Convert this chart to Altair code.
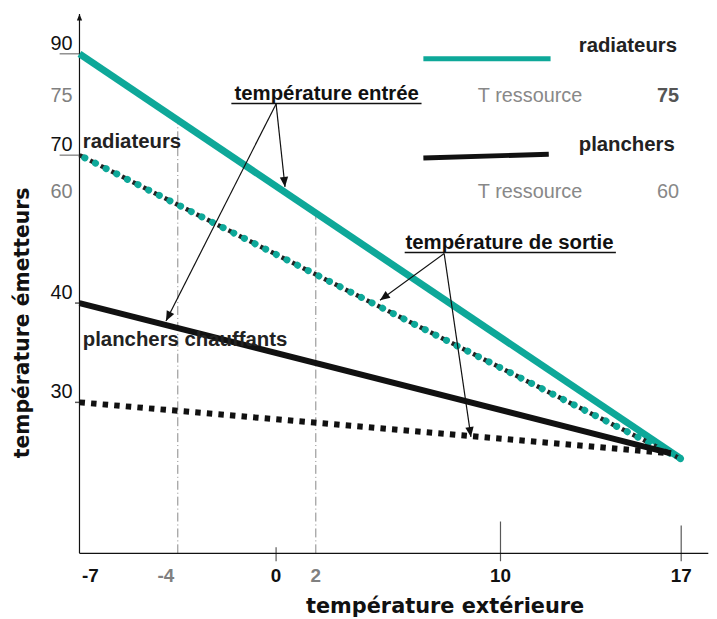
import altair as alt
import numpy as np
import pandas as pd

TEAL = "#0ea899"
SANS = "Liberation Sans"

# ---------------- data ----------------
t_ext = [-7, 17]
t_ext_planchers = [-7, 16.6]
rad_entree = [90, 20]
rad_sortie = [70, 20]
pl_entree = [40, 21]
pl_sortie = [30, 21]

y_labels_black = [90, 70, 40, 30]
y_labels_gray = [75, 60]
x_labels_black = [0, 10, 17]
x_labels_gray = [-4, 2]
x_label_first = [-7]

# guide lines (x, top value where they meet the radiator inlet line)
guide_x = [-4, 2]
guide_top = [73.0, 56.25]

# annotations (positions in chart units: °C outside / °C emitter)
ann_entree = {"text": "température entrée", "x": 2.47, "y": 74.6,
              "ul_x": -1.82, "ul_x2": 6.58, "ul_y": 74.33,
              "from": (0.0, 74.3), "to": [(0.45, 61.35), (-4.36, 38.2)]}
ann_sortie = {"text": "température de sortie", "x": 10.35, "y": 49.64,
              "ul_x": 5.85, "ul_x2": 14.47, "ul_y": 49.1,
              "from": (7.56, 48.9), "to": [(4.78, 40.5), (8.72, 23.9)]}
series_labels = ["radiateurs", "planchers chauffants"]
series_label_x = [-6.9, -6.9]
series_label_y = [70.58, 35.7]

# legend
leg_names = ["radiateurs", "planchers"]
leg_name_y = [90.7, 70.33]
leg_name_x = 13.03
leg_line_x = [6.66, 11.94]
leg_line_y_rad = [88.2, 88.2]
leg_line_x_pl = [6.66, 11.87]
leg_line_y_pl = [69.2, 70.08]
leg_res_label = "T ressource"
leg_res_x = 9.02
leg_res_y = [75, 60]
leg_res_vals = ["75", "60"]
leg_res_val_x = 16.92

# ---------------- scales (schematic, piecewise) ----------------
X_DOMAIN = [-7, -4, 0, 2, 10, 17]
X_RANGE = [72, 171, 270, 310, 496, 678]
Y_DOMAIN = [0, 20, 30, 40, 60, 70, 75, 90, 105]
Y_RANGE = [547, 452, 395, 295, 183, 146, 86, 44, 2]

xs = alt.Scale(domain=X_DOMAIN, range=X_RANGE, zero=False, nice=False)
ys = alt.Scale(domain=Y_DOMAIN, range=Y_RANGE, zero=False, nice=False)


def XY(x="x", y="y"):
    return dict(x=alt.X(f"{x}:Q", scale=xs, axis=None),
                y=alt.Y(f"{y}:Q", scale=ys, axis=None))


def line(xa, ya, **mk):
    return alt.Chart(pd.DataFrame({"x": xa, "y": ya})).mark_line(**mk).encode(**XY())


def texts(xa, ya, labels, **mk):
    df = pd.DataFrame({"x": xa, "y": ya, "t": labels})
    return alt.Chart(df).mark_text(**mk).encode(**XY(), text="t:N")


def rule(x, y, x2, y2, **mk):
    df = pd.DataFrame({"x": [x], "y": [y], "x2": [x2], "y2": [y2]})
    return alt.Chart(df).mark_rule(**mk).encode(**XY(), x2="x2:Q", y2="y2:Q")


def to_px(x, y):
    return np.interp(x, X_DOMAIN, X_RANGE), np.interp(y, Y_DOMAIN, Y_RANGE)


ARROW = "M0,0L0.42,1L-0.42,1Z"


def arrows(src, dests):
    layers = []
    x0, y0 = src
    heads = []
    for (x1, y1) in dests:
        layers.append(rule(x0, y0, x1, y1, color="#111", strokeWidth=1.2))
        p0 = to_px(x0, y0)
        p1 = to_px(x1, y1)
        ang = np.degrees(np.arctan2(p1[0] - p0[0], -(p1[1] - p0[1]))) % 360
        heads.append({"x": x1, "y": y1, "a": float(ang)})
    hd = pd.DataFrame(heads)
    layers.append(alt.Chart(hd).mark_point(shape=ARROW, filled=True, size=400,
                                            color="#111", opacity=1)
                  .encode(**XY(), angle=alt.Angle("a:Q", scale=None)))
    return layers


def xtick(xv, size, offset):
    return (alt.Chart(pd.DataFrame({"x": [xv], "y": [0]}))
            .mark_tick(orient="vertical", size=size, thickness=1.2, yOffset=offset,
                       color="#111")
            .encode(**XY()))


layers = []

# guide dash-dot verticals
for gx, gt in zip(guide_x, guide_top):
    layers.append(rule(gx, 0, gx, gt, color="#888", strokeWidth=1,
                       strokeDash=[9, 3, 1, 3]))

# axes
layers.append(rule(-7, 0, -7, 104.3, color="#111", strokeWidth=1.2))
layers.append(rule(-7, 0, 18.05, 0, color="#111", strokeWidth=1.2))
layers.append(alt.Chart(pd.DataFrame({"x": [-7], "y": [104.3]}))
              .mark_point(shape=ARROW, filled=True, size=160, color="#111", opacity=1)
              .encode(**XY()))
# y ticks
layers.append(alt.Chart(pd.DataFrame({"x": [-7, -7], "y": [90, 70]}))
              .mark_tick(orient="horizontal", size=20, thickness=1, xOffset=-10, color="#111")
              .encode(**XY()))
layers.append(alt.Chart(pd.DataFrame({"x": [-7, -7], "y": [40, 30]}))
              .mark_tick(orient="horizontal", size=5, thickness=1.5, xOffset=-2, color="#111")
              .encode(**XY()))
# x ticks (crossing the axis)
layers.append(xtick(10, 40, -12))
layers.append(xtick(17, 36, -10))
layers.append(xtick(0, 14, 1))

# series lines
layers.append(line(t_ext, rad_entree, color=TEAL, strokeWidth=7, strokeCap="butt"))
layers.append(line(t_ext, rad_sortie, color="#222", strokeWidth=4.5, strokeDash=[5, 7],
                   strokeCap="butt"))
layers.append(line(t_ext, rad_sortie, color=TEAL, strokeWidth=7, strokeDash=[0.1, 11.9],
                   strokeDashOffset=6, strokeCap="round"))
layers.append(line(t_ext_planchers, pl_entree, color="#111", strokeWidth=6, strokeCap="butt"))
layers.append(line(t_ext_planchers, pl_sortie, color="#111", strokeWidth=6,
                   strokeDash=[5.5, 6.2], strokeCap="butt"))

# axis labels
layers.append(texts([-7] * len(y_labels_black), y_labels_black,
                    [str(v) for v in y_labels_black], align="right", baseline="middle",
                    dx=-7, dy=-10, font=SANS, fontSize=20, color="#111"))
layers.append(texts([-7] * len(y_labels_gray), y_labels_gray,
                    [str(v) for v in y_labels_gray], align="right", baseline="middle",
                    dx=-7, dy=0, font=SANS, fontSize=20, color="#808080"))
layers.append(texts(x_labels_black, [0] * len(x_labels_black),
                    [str(v) for v in x_labels_black], align="center", baseline="middle",
                    dy=23, font=SANS, fontSize=19, fontWeight="bold", color="#111"))
layers.append(texts(x_label_first, [0], [str(v) for v in x_label_first], align="center",
                    baseline="middle", dx=11, dy=23, font=SANS, fontSize=19,
                    fontWeight="bold", color="#111"))
layers.append(texts([x_labels_gray[0]], [0], [str(x_labels_gray[0])], align="center",
                    baseline="middle", dx=-12, dy=23, font=SANS, fontSize=19,
                    fontWeight="bold", color="#808080"))
layers.append(texts([x_labels_gray[1]], [0], [str(x_labels_gray[1])], align="center",
                    baseline="middle", dy=23, font=SANS, fontSize=19,
                    fontWeight="bold", color="#808080"))

# axis titles
layers.append(texts([7.6], [0], ["température extérieure"], align="center",
                    baseline="middle", dy=54, font="DejaVu Sans", fontSize=21,
                    fontWeight="bold", color="#111"))
layers.append(texts([-8.72], [38], ["température émetteurs"], align="center",
                    baseline="middle", angle=270, font="DejaVu Sans", fontSize=20.5,
                    fontWeight="bold", color="#111"))

# series labels on chart
layers.append(texts(series_label_x, series_label_y, series_labels, align="left",
                    baseline="alphabetic", font=SANS, fontSize=20.5, fontWeight="bold",
                    color="#222"))

# annotations
for ann in (ann_entree, ann_sortie):
    layers.append(texts([ann["x"]], [ann["y"]], [ann["text"]], align="center",
                        baseline="alphabetic", font=SANS, fontSize=20.5,
                        fontWeight="bold", color="#111"))
    layers.append(rule(ann["ul_x"], ann["ul_y"], ann["ul_x2"], ann["ul_y"],
                       color="#111", strokeWidth=1.5))
    layers.extend(arrows(ann["from"], ann["to"]))

# legend
layers.append(line(leg_line_x, leg_line_y_rad, color=TEAL, strokeWidth=5, strokeCap="butt"))
layers.append(line(leg_line_x_pl, leg_line_y_pl, color="#111", strokeWidth=5,
                   strokeCap="butt"))
layers.append(texts([leg_name_x] * 2, leg_name_y, leg_names, align="left",
                    baseline="alphabetic", font=SANS, fontSize=20.5, fontWeight="bold",
                    color="#222"))
layers.append(texts([leg_res_x] * 2, leg_res_y, [leg_res_label] * 2, align="left",
                    baseline="middle", font=SANS, fontSize=20, color="#888"))
layers.append(texts([leg_res_val_x], [leg_res_y[0]], [leg_res_vals[0]], align="right",
                    baseline="middle", font=SANS, fontSize=20, fontWeight="bold",
                    color="#555"))
layers.append(texts([leg_res_val_x], [leg_res_y[1]], [leg_res_vals[1]], align="right",
                    baseline="middle", font=SANS, fontSize=20, color="#888"))

chart = alt.layer(*layers).properties(
    width=706, height=611, autosize=alt.AutoSizeParams(type="none"), padding=0
).configure_view(stroke=None)

chart.save("out.html", embed_options={"renderer": "svg", "actions": False})
